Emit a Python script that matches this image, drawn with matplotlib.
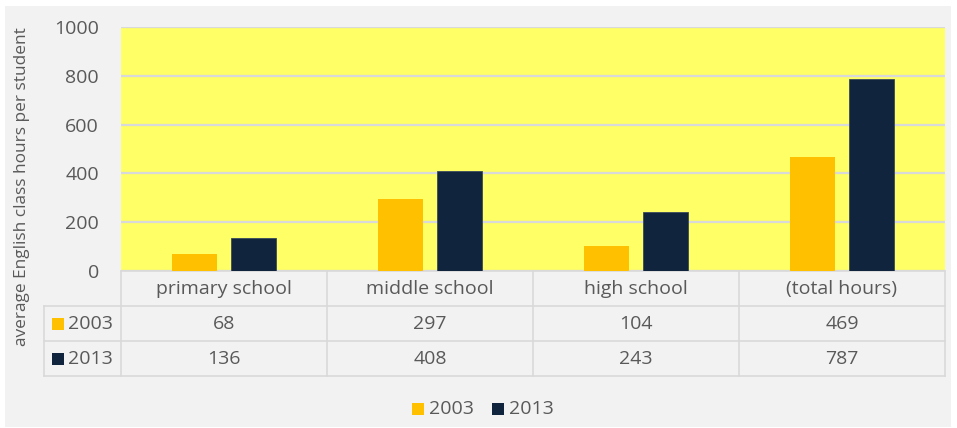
""" Grouped bar chart of English class hours per student, 2003 vs 2013,
    with a data table under the bars (spreadsheet style) """

import matplotlib
matplotlib.use('Agg')
import matplotlib.pyplot as plt
import matplotlib.patches as patches
import numpy as np

categories = ['primary school', 'middle school', 'high school', '(total hours)']
series_names = ['2003', '2013']
hours_2003 = [68, 297, 104, 469]
hours_2013 = [136, 408, 243, 787]
y_ticks = [0, 200, 400, 600, 800, 1000]

W, H = 957, 428
TEXT = '#595959'
LINE = '#d9d9d9'
COLORS = ['#ffc000', '#10243e']
FONT = 'Open Sans'
FS = 14

plt.rcParams['font.family'] = [FONT, 'DejaVu Sans']


def fig_rect(x0, y0, x1, y1):
    """ pixel box (top-left origin) -> figure fraction rect """
    return [x0 / W, 1 - y1 / H, (x1 - x0) / W, (y1 - y0) / H]


fig = plt.figure(figsize=(W / 100, H / 100), dpi=100)
fig.patch.set_facecolor('white')

# background canvas in pixel coordinates
bg = fig.add_axes([0, 0, 1, 1])
bg.set_xlim(0, W)
bg.set_ylim(H, 0)
bg.axis('off')
bg.add_patch(patches.Rectangle((5, 6), 946, 421, fc='#f2f2f2', ec='none'))

# plot area
left, right, top, bottom = 121, 945, 27, 271
ax = fig.add_axes(fig_rect(left, top, right, bottom))
ax.set_facecolor('#ffff66')
ax.set_ylim(0, 1000)
ax.set_xlim(-0.5, len(categories) - 0.5)
ax.set_yticks(y_ticks)
ax.yaxis.grid(True, color=LINE, linewidth=1.6)
ax.set_axisbelow(True)
ax.set_xticks([])
ax.tick_params(axis='y', length=0, pad=16, labelsize=FS, labelcolor=TEXT)
for spine in ax.spines.values():
    spine.set_visible(False)

x = np.arange(len(categories))
bw = 0.222
off = 0.143
ax.bar(x - off, hours_2003, bw, color=COLORS[0], label=series_names[0])
ax.bar(x + off, hours_2013, bw, color=COLORS[1], label=series_names[1],
       edgecolor='#3a4a5e', linewidth=0.6)

ax.set_ylabel('average English class hours per student', color=TEXT,
              fontsize=12.4)
ax.yaxis.set_label_coords((30 - left) / (right - left), (bottom - 187) / (bottom - top))

# data table
col_w = (right - left) / len(categories)
rows_y = [271, 306, 341, 376]
tleft = 44
lw = 1.2
bg.plot([left, right], [rows_y[0], rows_y[0]], color=LINE, lw=lw)
for yy in rows_y[1:]:
    bg.plot([tleft, right], [yy, yy], color=LINE, lw=lw)
bg.plot([tleft, tleft], [rows_y[1], rows_y[3]], color=LINE, lw=lw)
for i in range(len(categories) + 1):
    xx = left + i * col_w
    bg.plot([xx, xx], [rows_y[0], rows_y[3]], color=LINE, lw=lw)

for i, cat in enumerate(categories):
    cx = left + (i + 0.5) * col_w
    bg.text(cx, 289, cat, ha='center', va='center', color=TEXT, fontsize=FS)
    bg.text(cx, 324, str(hours_2003[i]), ha='center', va='center', color=TEXT, fontsize=FS)
    bg.text(cx, 359, str(hours_2013[i]), ha='center', va='center', color=TEXT, fontsize=FS)

for j, (name, col) in enumerate(zip(series_names, COLORS)):
    cy = 324 + j * 35
    bg.add_patch(patches.Rectangle((52, cy - 6), 12, 12, fc=col, ec='none'))
    bg.text(68, cy, name, ha='left', va='center', color=TEXT, fontsize=FS)

# bottom legend
legend_x = [412, 492]
for lx, name, col in zip(legend_x, series_names, COLORS):
    bg.add_patch(patches.Rectangle((lx, 403), 12, 12, fc=col, ec='none'))
    bg.text(lx + 17, 409, name, ha='left', va='center', color=TEXT, fontsize=FS)

plt.savefig('out.png', dpi=100, facecolor=fig.get_facecolor())
